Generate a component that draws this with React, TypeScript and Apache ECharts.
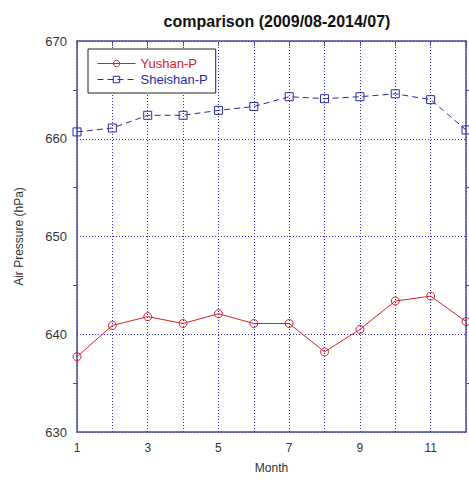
import React, { useEffect, useRef } from "react";
import * as echarts from "echarts";

const months = [1, 2, 3, 4, 5, 6, 7, 8, 9, 10, 11, 12];
const yushanP = [637.7, 640.9, 641.8, 641.1, 642.1, 641.1, 641.1, 638.2, 640.5, 643.4, 643.9, 641.3];
const sheishanP = [660.7, 661.1, 662.4, 662.4, 662.9, 663.3, 664.3, 664.1, 664.3, 664.6, 664.0, 660.9];

const AXIS = "#4a4a9e";
const GRID = "#2a2ab0";
const RED = "#d8202a";
const BLUE = "#2a2aa8";
const FONT = "'Liberation Sans', Arial, sans-serif";

export default function App() {
  const ref = useRef<HTMLDivElement>(null);

  useEffect(() => {
    const chart = echarts.init(ref.current!, null, { renderer: "svg" });
    const pairs = (vals: number[]) => months.map((m, i) => [m, vals[i]]);

    chart.setOption({
      animation: false,
      backgroundColor: "#ffffff",
      textStyle: { fontFamily: FONT },
      title: {
        text: "comparison (2009/08-2014/07)",
        left: 272,
        top: 8,
        textAlign: "center",
        textStyle: { fontFamily: FONT, fontSize: 16, fontWeight: "bold", color: "#111" },
      },
      grid: { left: 77, top: 41, width: 391, height: 391 },
      xAxis: [
        {
          type: "value",
          min: 1,
          max: 12,
          interval: 1,
          name: "Month",
          nameLocation: "middle",
          nameGap: 30,
          nameTextStyle: { fontFamily: FONT, fontSize: 12, color: "#333" },
          axisLine: { lineStyle: { color: AXIS, width: 1.5 } },
          axisTick: { show: false },
          axisLabel: {
            fontFamily: FONT,
            fontSize: 12,
            color: "#333",
            margin: 10,
            formatter: (v: number) => (v % 2 === 1 ? String(v) : ""),
          },
          splitLine: { show: true, lineStyle: { color: GRID, type: [1, 2], width: 1 } },
        },
        {
          type: "value",
          position: "top",
          min: 1,
          max: 12,
          interval: 1,
          axisLine: { lineStyle: { color: AXIS, width: 1.5 } },
          axisTick: { show: true, inside: true, length: 5, lineStyle: { color: AXIS } },
          axisLabel: { show: false },
          splitLine: { show: false },
        },
      ],
      yAxis: [
        {
          type: "value",
          min: 630,
          max: 670,
          interval: 10,
          name: "Air Pressure (hPa)",
          nameLocation: "middle",
          nameGap: 52,
          nameTextStyle: { fontFamily: FONT, fontSize: 12, color: "#333" },
          axisLine: { show: true, lineStyle: { color: AXIS, width: 1.5 } },
          axisTick: { show: false },
          minorTick: { show: true, splitNumber: 2, length: 4, lineStyle: { color: AXIS } },
          axisLabel: { fontFamily: FONT, fontSize: 13, color: "#333", margin: 10 },
          splitLine: { show: true, lineStyle: { color: GRID, type: [1, 2], width: 1 } },
        },
        {
          type: "value",
          position: "right",
          min: 630,
          max: 670,
          interval: 10,
          axisLine: { show: true, lineStyle: { color: AXIS, width: 1.5 } },
          axisTick: { show: false },
          minorTick: { show: true, splitNumber: 2, length: 4, lineStyle: { color: AXIS } },
          axisLabel: { show: false },
          splitLine: { show: false },
        },
      ],
      legend: {
        left: 88,
        top: 49,
        orient: "vertical",
        padding: [8, 8, 7, 9],
        itemGap: 3,
        itemWidth: 38,
        itemHeight: 8,
        backgroundColor: "#ffffff",
        borderColor: "#222",
        borderWidth: 1,
        textStyle: { fontFamily: FONT, fontSize: 13 },
        itemStyle: { borderWidth: 1 },
        lineStyle: { width: 1 },
        data: [
          { name: "Yushan-P", textStyle: { color: RED } },
          { name: "Sheishan-P", textStyle: { color: BLUE } },
        ],
      },
      series: [
        {
          name: "Yushan-P",
          type: "line",
          data: pairs(yushanP),
          symbol: "circle",
          symbolSize: 8,
          lineStyle: { color: RED, width: 1 },
          itemStyle: { color: "transparent", borderColor: RED, borderWidth: 1 },
          z: 3,
        },
        {
          name: "Sheishan-P",
          type: "line",
          data: pairs(sheishanP),
          symbol: "rect",
          symbolSize: 8,
          lineStyle: { color: BLUE, width: 1, type: [6, 4] },
          itemStyle: { color: "transparent", borderColor: BLUE, borderWidth: 1 },
          z: 3,
        },
      ],
    });

    return () => chart.dispose();
  }, []);

  return (
    <div
      ref={ref}
      style={{ position: "fixed", left: 0, top: 0, width: 469, height: 484 }}
    />
  );
}
